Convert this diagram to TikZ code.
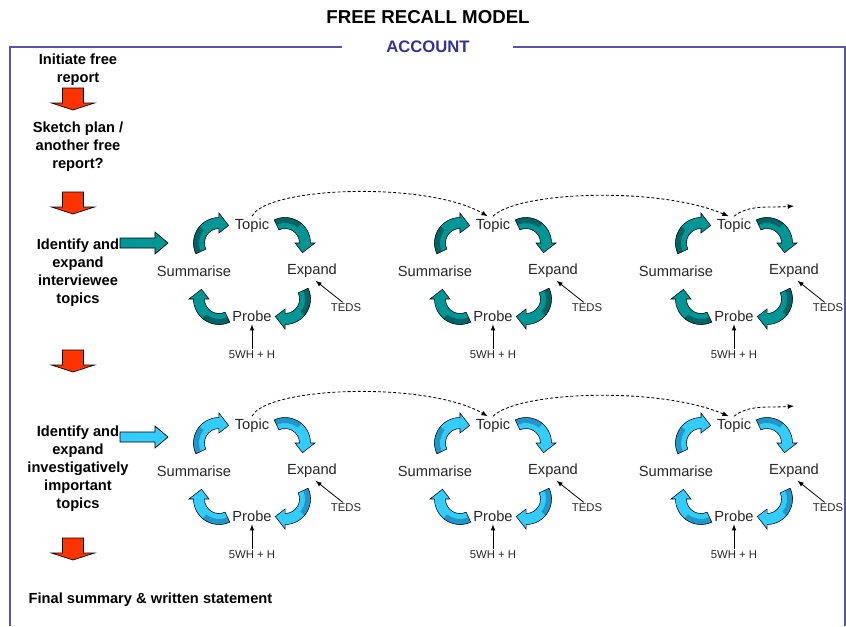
\documentclass[tikz,border=0pt]{standalone}
\usepackage{fontspec}
\setmainfont{Liberation Sans}
\usetikzlibrary{shapes,arrows,positioning,calc}
\definecolor{redarr}{RGB}{255,51,0}
\definecolor{tealA}{RGB}{0,150,150}
\definecolor{tealB}{RGB}{0,100,100}
\definecolor{skyA}{RGB}{51,204,255}
\definecolor{skyB}{RGB}{34,150,200}
\definecolor{frameblue}{RGB}{85,85,165}
\definecolor{accblue}{RGB}{51,51,153}

\begin{document}
\begin{tikzpicture}[x=0.75pt, y=-0.75pt, >=latex,
    stage/.style={font=\fontsize{11}{13.5}\selectfont\bfseries, align=center, inner sep=1pt},
    lbl/.style={font=\fontsize{11}{13}\selectfont, inner sep=2pt, text=black!85},
    note/.style={font=\fontsize{8.5}{10}\selectfont, inner sep=1pt, text=black!85},
    blockarr/.style={draw=black, line width=0.5pt},
    curl/.style={draw=black, line width=0.4pt},
    dashline/.style={dashed, dash pattern=on 2.2pt off 1.6pt, line width=0.65pt}]
    \useasboundingbox (0,0) rectangle (846,626);

    % titel en kader
    \node[font=\fontsize{14}{16}\selectfont\bfseries] (title) at (428,17) {FREE RECALL MODEL};
    \node[font=\fontsize{12.5}{15}\selectfont\bfseries, text=accblue] (account) at (428,47) {ACCOUNT};
    \draw[frameblue, line width=0.8pt] (342,47) -- (10,47) -- (10,626);
    \draw[frameblue, line width=0.8pt] (513,47) -- (845,47) -- (845,626);

    % stappen links
    \node[stage] (initiate) at (78,70) {Initiate free\\report};
    \node[stage] (sketch) at (78,147) {Sketch plan /\\another free\\report?};
    \node[stage] (interviewee) at (78,273) {Identify and\\expand\\interviewee\\topics};
    \node[stage] (important) at (78,469) {Identify and\\expand\\investigatively\\important\\topics};
    \node[stage, anchor=west] (final) at (27,600) {Final summary \& written statement};

    \foreach \y in {88,192,350,538}
        \filldraw[blockarr, fill=redarr, shift={(73,\y)}] (-10.5,0) -- (10.5,0) -- (10.5,15) -- (21.5,15) -- (0,22) -- (-21.5,15) -- (-10.5,15) -- cycle;

    \filldraw[blockarr, fill=tealA, shift={(120,243)}] (0,-5) -- (35,-5) -- (35,-11) -- (48,0) -- (35,11) -- (35,5) -- (0,5) -- cycle;
    \filldraw[blockarr, fill=skyA, shift={(120,437)}] (0,-5) -- (35,-5) -- (35,-11) -- (48,0) -- (35,11) -- (35,5) -- (0,5) -- cycle;

    % cycli
    \foreach \row/\cy/\cA/\cB in {1/271/tealA/tealB, 2/471/skyA/skyB} {
        \foreach \col/\cx in {1/252, 2/493, 3/734} {
            \node[lbl] (topic\row\col) at (\cx,\cy-45) {Topic};
            \node[lbl] (summ\row\col) at (\cx-58,\cy) {Summarise};
            \node[lbl] (expand\row\col) at (\cx+60,\cy) {Expand};
            \node[lbl] (probe\row\col) at (\cx,\cy+45) {Probe};
            \node[note] (teds\row\col) at (\cx+94,\cy+37) {TEDS};
            \node[note] (wh\row\col) at (\cx,\cy+84) {5WH + H};
            \draw[->, line width=0.6pt] (teds\row\col.120) -- (expand\row\col.-70);
            \draw[->, line width=0.6pt] (wh\row\col) -- (probe\row\col);
            \foreach \q in {0,90,180,270} {
                \fill[\cA, shift={(\cx,\cy)}, shift={({46.7*cos(\q-45)},{39.6*sin(\q-45)})}]
                    ({\q-115}:25.5) arc[start angle=\q-115, end angle=\q, radius=25.5]
                    -- ({\q}:30) -- ({\q+29}:20) -- ({\q}:10) -- ({\q}:14.5)
                    arc[start angle=\q, end angle=\q-115, radius=14.5] -- cycle;
                \fill[\cB, shift={(\cx,\cy)}, shift={({46.7*cos(\q-45)},{39.6*sin(\q-45)})}]
                    ({\q-115}:25.5) arc[start angle=\q-115, end angle=\q-50, radius=25.5]
                    -- ({\q-50}:20) arc[start angle=\q-50, end angle=\q-115, radius=20] -- cycle;
                \draw[curl, shift={(\cx,\cy)}, shift={({46.7*cos(\q-45)},{39.6*sin(\q-45)})}]
                    ({\q-115}:25.5) arc[start angle=\q-115, end angle=\q, radius=25.5]
                    -- ({\q}:30) -- ({\q+29}:20) -- ({\q}:10) -- ({\q}:14.5)
                    arc[start angle=\q, end angle=\q-115, radius=14.5] -- cycle;
            }
        }
        \coordinate (end\row) at (794,\cy-65);
        \draw[dashline, ->] (topic\row1.north) .. controls +(15,-30) and +(-60,-35) .. ([xshift=-4pt]topic\row2.north);
        \draw[dashline, ->] (topic\row2.north) .. controls +(25,-25) and +(-70,-30) .. ([xshift=-4pt]topic\row3.north);
        \draw[dashline, ->] (topic\row3.north) .. controls +(15,-12) and +(-25,2) .. (end\row);
    }
\end{tikzpicture}
\end{document}
